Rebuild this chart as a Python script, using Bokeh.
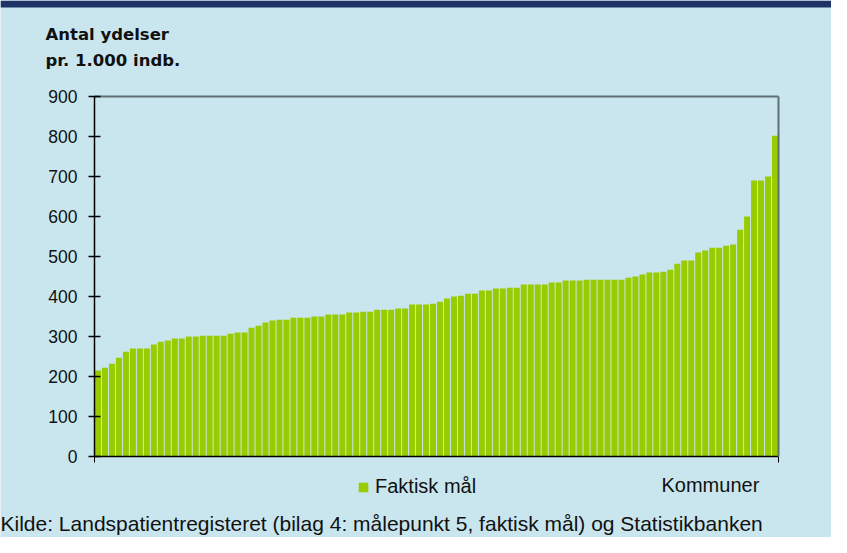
from bokeh.plotting import figure
from bokeh.models import (Range1d, Legend, LegendItem, FixedTicker, LinearAxis,
                          ColumnDataSource, Label, BoxAnnotation)
from bokeh.embed import file_html
from bokeh.resources import INLINE

# Data: number of services per 1,000 inhabitants, one bar per municipality (sorted)
kommune_nr = list(range(1, 99))
ydelser = [215, 222, 232, 247, 262, 270, 270, 270, 280, 287,
           290, 295, 295, 300, 300, 302, 302, 302, 302, 307,
           310, 310, 322, 327, 335, 340, 342, 342, 347, 347,
           347, 350, 350, 355, 355, 355, 360, 360, 362, 362,
           367, 367, 367, 370, 370, 380, 380, 380, 382, 387,
           395, 400, 402, 407, 407, 415, 415, 420, 420, 422,
           422, 430, 430, 430, 430, 435, 435, 440, 440, 440,
           442, 442, 442, 442, 442, 442, 447, 450, 455, 460,
           460, 462, 467, 482, 490, 490, 510, 515, 522, 522,
           527, 530, 567, 600, 690, 690, 700, 802]
y_ticks = [0, 100, 200, 300, 400, 500, 600, 700, 800, 900]
series_name = "Faktisk mål"
x_title = "Kommuner"
y_title_lines = ["Antal ydelser", "pr. 1.000 indb."]
source_text = "Kilde: Landspatientregisteret (bilag 4: målepunkt 5, faktisk mål) og Statistikbanken"

BG = "#C9E6EE"
GREEN = "#99CC00"
NAVY = "#1F3366"
FONT = "Liberation Sans"
TXT = "#111111"
BORDER = "#5F6E74"

# canvas geometry (pixels) -> the frame covers the whole canvas, axes sit at fixed locations
W, H = 831, 537
PLOT_L, PLOT_R, PLOT_T, PLOT_B = 94, 778, 96, 456
n = len(kommune_nr)
x_lo, x_hi = 0.5, n + 0.5
y_lo, y_hi = 0, 900
px_x = (PLOT_R - PLOT_L) / (x_hi - x_lo)
px_y = (PLOT_B - PLOT_T) / (y_hi - y_lo)
x_range = Range1d(x_lo - PLOT_L / px_x, x_hi + (W - PLOT_R) / px_x)
y_range = Range1d(y_lo - (H - PLOT_B) / px_y, y_hi + PLOT_T / px_y)

src = ColumnDataSource(dict(x=kommune_nr, y=ydelser))

p = figure(output_backend="svg", toolbar_location=None, width=W, height=H,
           min_border=0, x_range=x_range, y_range=y_range)
p.background_fill_color = BG
p.border_fill_color = BG
p.outline_line_color = None
p.grid.visible = False

# dark band at the very top
p.add_layout(BoxAnnotation(bottom=H - 7, bottom_units="screen", fill_color=NAVY,
                           fill_alpha=1, line_color=None, level="underlay"))

r = p.vbar(x="x", top="y", width=0.86, source=src, fill_color=GREEN, line_color=None)

# y axis (left), fixed at the first bar edge
ya = p.yaxis[0]
ya.fixed_location = x_lo
ya.bounds = (y_lo, y_hi)
ya.ticker = FixedTicker(ticks=y_ticks)
ya.major_label_text_font = FONT
ya.major_label_text_font_size = "17.5px"
ya.major_label_text_color = TXT
ya.axis_line_color = "black"
ya.axis_line_width = 1.5
ya.major_tick_line_color = "black"
ya.major_tick_line_width = 1.5
ya.major_tick_out = 6
ya.major_tick_in = 6
ya.minor_tick_line_color = None
ya.major_label_standoff = 11

# x axis (below), fixed at zero, no labels
xa = p.xaxis[0]
xa.fixed_location = 0
xa.bounds = (x_lo, x_hi)
xa.ticker = FixedTicker(ticks=[x_lo, x_hi])
xa.major_label_overrides = {x_lo: " ", x_hi: " "}
xa.major_label_text_font_size = "1px"
xa.axis_line_color = "black"
xa.axis_line_width = 1.5
xa.major_tick_line_color = "black"
xa.major_tick_out = 6
xa.major_tick_in = 0
xa.minor_tick_line_color = None

# frame border (top and right) as tick-less axes
top_ax = LinearAxis(fixed_location=y_hi, bounds=(x_lo, x_hi), ticker=FixedTicker(ticks=[]),
                    axis_line_color=BORDER, axis_line_width=2,
                    major_tick_line_color=None, minor_tick_line_color=None,
                    major_label_text_font_size="1px")
right_ax = LinearAxis(fixed_location=x_hi, bounds=(y_lo, y_hi), ticker=FixedTicker(ticks=[]),
                      axis_line_color=BORDER, axis_line_width=2,
                      major_tick_line_color=None, minor_tick_line_color=None,
                      major_label_text_font_size="1px")
p.add_layout(top_ax, "above")
p.add_layout(right_ax, "right")

# legend
legend = Legend(items=[LegendItem(label=series_name, renderers=[r])],
                location=(357, 39), orientation="horizontal",
                background_fill_alpha=0, border_line_color=None,
                label_text_font=FONT, label_text_font_size="20px",
                label_text_color=TXT,
                glyph_width=12, glyph_height=12, label_standoff=6,
                padding=0, margin=0)
p.add_layout(legend, "center")

# texts (y given as pixel rows from the top of the canvas)
def put(text, x, row, size, font=FONT, style="normal"):
    p.add_layout(Label(x=x, y=H - row, x_units="screen", y_units="screen", text=text,
                       text_font=font, text_font_size=size, text_font_style=style,
                       text_color=TXT, text_baseline="middle"))

put(x_title, 661, 484.5, "20px")
put(y_title_lines[0], 45, 33.5, "16.5px", "DejaVu Sans", "bold")
put(y_title_lines[1], 45, 59.5, "16.5px", "DejaVu Sans", "bold")
put(source_text, 0, 523, "21px")

open("out.html", "w").write(file_html(p, INLINE))
